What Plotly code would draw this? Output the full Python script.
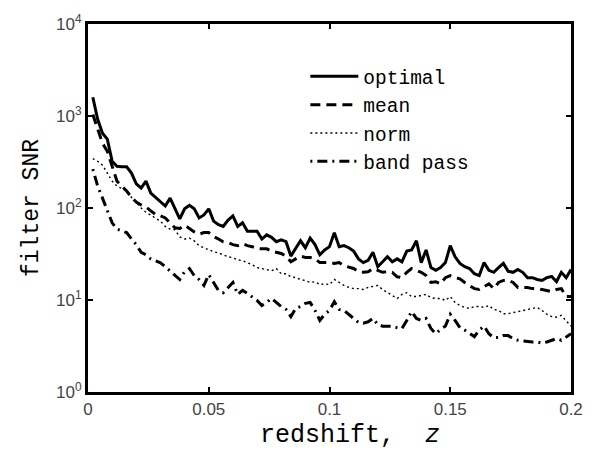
import plotly.graph_objects as go

z = [round(0.002 * i, 3) for i in range(1, 101)]

optimal = [1600, 920, 650, 560, 322, 284, 280, 280, 240, 183,
           165, 196, 145, 131, 119, 105, 128, 98, 76, 98,
           107, 98, 78, 84, 98, 72, 66, 63, 74, 82,
           63, 69, 56, 56, 56, 46, 51, 48, 43, 45,
           43, 30, 37, 44, 37, 47, 40, 31, 35, 38,
           54, 38, 39, 37, 34, 28, 25.5, 27, 33, 23,
           26, 29.5, 26, 28, 26, 34, 35, 44, 25.5, 35,
           22.5, 21, 22.5, 25.5, 39, 29.5, 25, 23, 22, 19.3,
           18.4, 25.5, 21, 20, 22.5, 25, 20.5, 20, 21.5, 20,
           17.5, 17.5, 16.7, 16.3, 17.5, 18, 15.8, 20, 17.5, 21.5]

mean = [1040, 735, 505, 413, 276, 196, 173, 153, 131, 116,
        108, 103, 93, 85, 82, 78, 69, 61, 60, 65,
        60, 55, 52, 54, 54, 49, 46, 43, 42, 40,
        39, 41, 39, 38, 36, 36, 36, 34, 33, 32,
        30, 26, 28, 30, 29, 29, 28, 25.5, 25.5, 25.5,
        25, 25.5, 23.6, 23, 22, 20.3, 20, 20.3, 22, 21,
        20, 20.3, 20, 17.9, 17.5, 20, 22, 21, 20, 18.4,
        15.5, 15.8, 15, 17.5, 18.4, 17.5, 17, 15.5, 14.4, 13.3,
        13, 14, 15, 13.3, 15.5, 16.3, 16.3, 15.5, 13.7, 13.7,
        13.7, 13.3, 13.3, 13, 12.7, 12.3, 13, 13.3, 10.9, 10.9]

norm = [345, 322, 292, 239, 196, 173, 161, 153, 131, 113,
        100, 90, 84, 78, 72, 63, 59, 58, 48.5, 46,
        47, 44, 39, 37, 35, 33.5, 32.5, 31, 29.5, 28.8,
        27.3, 26.7, 25.4, 24.2, 22.5, 22, 21.3, 20.8, 22, 19.3,
        19.3, 17.9, 17.5, 16.7, 16.3, 15.5, 15.8, 14.7, 15, 14.7,
        16.7, 15.5, 14.4, 13.7, 13.3, 13.3, 13, 13.7, 14, 14.4,
        13, 12, 11.2, 10.4, 11.5, 12, 10.9, 10.9, 11.2, 11.5,
        10.6, 10.4, 10.4, 9.9, 10.9, 9.4, 8.7, 8.3, 8.1, 8.5,
        8.5, 8.3, 8.7, 7.9, 7.7, 7.1, 7.1, 7.3, 7.5, 7.7,
        7.9, 8.1, 8.3, 7.7, 7.0, 6.6, 6.5, 6.8, 6.0, 5.2]

band_pass = [265, 173, 128, 95, 69, 59, 56, 54, 46, 40,
             33, 31, 28, 26.7, 25.4, 23, 20.8, 18.4, 16.7, 20.3,
             22, 18.4, 16.7, 14.4, 18.9, 15.5, 12.7, 12, 13.7, 15.5,
             11.5, 12.7, 11.8, 10.9, 9.9, 8.7, 9.4, 10.4, 9.4, 8.5,
             7.9, 6.6, 8.1, 8.5, 9.2, 9.4, 7.7, 6.0, 7.0, 7.7,
             9.6, 7.9, 7.7, 7.0, 6.3, 5.7, 5.6, 5.8, 6.3, 5.4,
             5.2, 5.2, 5.2, 5.0, 4.9, 6.0, 7.5, 6.3, 6.0, 6.3,
             4.9, 4.3, 4.8, 5.2, 7.0, 6.0, 5.0, 4.7, 4.3, 4.0,
             4.7, 5.2, 4.3, 3.9, 3.9, 4.1, 4.1, 3.8, 3.65, 3.6,
             3.5, 3.5, 3.5, 3.4, 3.5, 3.65, 3.8, 3.65, 4.0, 4.3]

x_ticks = [0, 0.05, 0.1, 0.15, 0.2]
x_tick_labels = ["0", "0.05", "0.1", "0.15", "0.2"]
y_ticks = [1, 10, 100, 1000, 10000]
y_tick_labels = ["10<sup>0</sup>", "10<sup>1</sup>", "10<sup>2</sup>",
                 "10<sup>3</sup>", "10<sup>4</sup>"]

MONO = "Liberation Mono, Courier New, monospace"
SANS = "Liberation Sans, Arial, sans-serif"

fig = go.Figure()
fig.add_trace(go.Scatter(x=z, y=optimal, mode="lines", name="optimal",
                         line=dict(color="black", width=3)))
fig.add_trace(go.Scatter(x=z, y=mean, mode="lines", name="mean",
                         line=dict(color="black", width=3, dash="10px,6px")))
fig.add_trace(go.Scatter(x=z, y=norm, mode="lines", name="norm",
                         line=dict(color="black", width=1.4, dash="2px,3px")))
fig.add_trace(go.Scatter(x=z, y=band_pass, mode="lines", name="band pass",
                         line=dict(color="black", width=3, dash="2px,5px,10px,5px")))

fig.update_layout(
    width=595, height=465,
    margin=dict(l=88, r=20, t=22, b=73),
    paper_bgcolor="white", plot_bgcolor="white",
    showlegend=True,
    legend=dict(x=0.45, y=0.91, xanchor="left", yanchor="top",
                bgcolor="rgba(0,0,0,0)", borderwidth=0,
                font=dict(family=MONO, size=19.5, color="black"),
                itemwidth=48, tracegroupgap=0),
    xaxis=dict(range=[0, 0.2], tickvals=x_ticks, ticktext=x_tick_labels,
               ticks="inside", ticklen=5, tickwidth=2, tickcolor="black",
               showline=True, linecolor="black", linewidth=3, mirror="allticks",
               showgrid=False, zeroline=False,
               tickfont=dict(family=SANS, size=17, color="#444")),
    yaxis=dict(type="log", range=[0, 4], tickvals=y_ticks, ticktext=y_tick_labels,
               ticks="inside", ticklen=5, tickwidth=2, tickcolor="black",
               showline=True, linecolor="black", linewidth=3, mirror="allticks",
               showgrid=False, zeroline=False,
               tickfont=dict(family=SANS, size=17, color="#444"),
               title=dict(text="filter SNR", standoff=12,
                          font=dict(family=MONO, size=23, color="black"))),
    annotations=[dict(text="redshift,\u00a0 <i>z</i>", xref="paper", yref="paper",
                      x=0.542, y=-0.118, xanchor="center", yanchor="middle",
                      showarrow=False,
                      font=dict(family=MONO, size=25, color="black"))],
)

fig.write_html("out.html")
